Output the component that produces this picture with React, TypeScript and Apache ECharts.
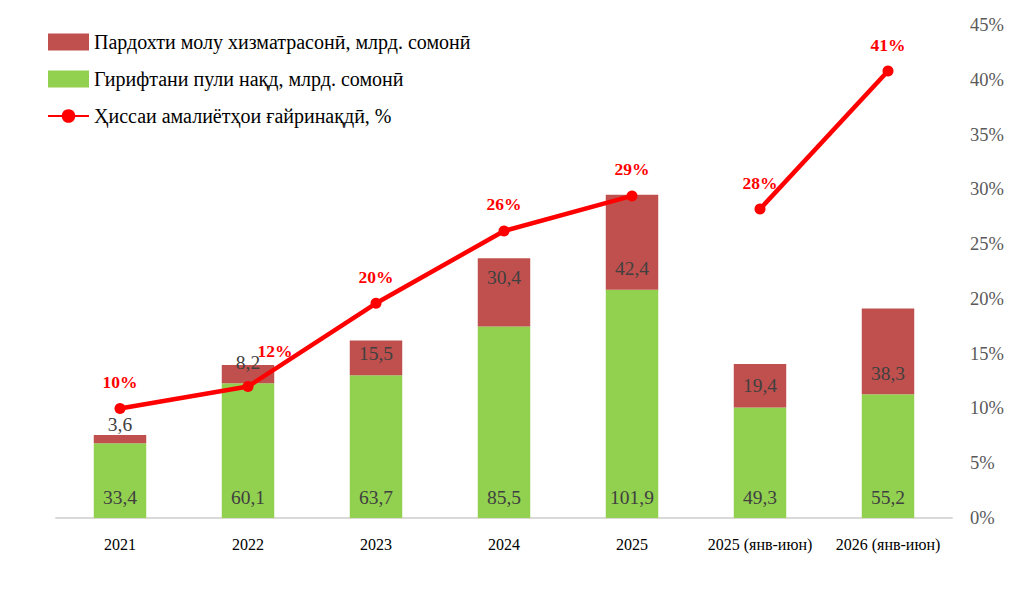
import React, { useEffect, useRef } from "react";
import * as echarts from "echarts";

const categories = ["2021", "2022", "2023", "2024", "2025", "2025 (янв-июн)", "2026 (янв-июн)"];
const cashValues = [33.4, 60.1, 63.7, 85.5, 101.9, 49.3, 55.2];
const paymentValues = [3.6, 8.2, 15.5, 30.4, 42.4, 19.4, 38.3];
const shareAnnual = [10.0, 12.0, 19.6, 26.2, 29.4, null, null];
const shareHalf = [null, null, null, null, null, 28.2, 40.8];
const rightTicks = { min: 0, max: 45, interval: 5 };

const NAME_PAY = "Пардохти молу хизматрасонӣ, млрд. сомонӣ";
const NAME_CASH = "Гирифтани пули нақд, млрд. сомонӣ";
const NAME_SHARE = "Ҳиссаи амалиётҳои ғайринақдӣ, %";

const FONT = "'Liberation Serif', 'DejaVu Serif', serif";
const fmt = (v: number) => v.toFixed(1).replace(".", ",");

const payLabelCfg: any[] = [
  { position: "top", distance: 1 },
  { position: "top", distance: -8 },
  { position: "inside", offset: [0, -4] },
  { position: "inside", offset: [0, -15] },
  { position: "inside", offset: [0, 26] },
  { position: "inside", offset: [0, 0] },
  { position: "inside", offset: [0, 22] },
];

export default function App() {
  const ref = useRef<HTMLDivElement>(null);
  useEffect(() => {
    if (!ref.current) return;
    const chart = echarts.init(ref.current, undefined, { renderer: "svg" });
    const lineLabel = {
      show: true,
      position: "top",
      distance: 12,
      color: "#FF0000",
      fontWeight: "bold",
      fontSize: 17.5,
      fontFamily: FONT,
      formatter: (p: any) => Math.round(p.value) + "%",
    };
    chart.setOption({
      animation: false,
      textStyle: { fontFamily: FONT },
      legend: {
        left: 42,
        top: 27,
        orient: "vertical",
        itemWidth: 41,
        itemHeight: 17,
        itemGap: 17,
        textStyle: { fontSize: 20, color: "#000", fontFamily: FONT },
        data: [
          { name: NAME_PAY, icon: "rect" },
          { name: NAME_CASH, icon: "rect" },
          { name: NAME_SHARE },
        ],
      },
      grid: { left: 56, right: 60, top: 25, bottom: 71 },
      xAxis: {
        type: "category",
        data: categories,
        axisLine: { lineStyle: { color: "#D9D9D9", width: 2 } },
        axisTick: { show: false },
        axisLabel: { color: "#000", fontSize: 16, margin: 18, interval: 0, fontFamily: FONT },
      },
      yAxis: [
        { type: "value", min: 0, max: 220, show: false, splitLine: { show: false } },
        {
          type: "value",
          position: "right",
          min: rightTicks.min,
          max: rightTicks.max,
          interval: rightTicks.interval,
          axisLine: { show: false },
          axisTick: { show: false },
          splitLine: { show: false },
          axisLabel: { formatter: "{value}%", color: "#595959", fontSize: 18.5, margin: 18, fontFamily: FONT },
        },
      ],
      series: [
        {
          name: NAME_CASH,
          type: "bar",
          stack: "s",
          barWidth: "41%",
          itemStyle: { color: "#92D050" },
          label: {
            show: true,
            position: "insideBottom",
            distance: 11,
            color: "#404040",
            fontSize: 19.5,
            fontFamily: FONT,
            formatter: (p: any) => fmt(p.value),
          },
          data: cashValues,
        },
        {
          name: NAME_PAY,
          type: "bar",
          stack: "s",
          itemStyle: { color: "#C0504D" },
          label: {
            show: true,
            color: "#404040",
            fontSize: 19.5,
            fontFamily: FONT,
            formatter: (p: any) => fmt(p.value),
          },
          data: paymentValues.map((v, i) => ({ value: v, label: payLabelCfg[i] })),
        },
        {
          name: NAME_SHARE,
          type: "line",
          yAxisIndex: 1,
          symbol: "circle",
          symbolSize: 11,
          lineStyle: { color: "#FF0000", width: 4.5 },
          itemStyle: { color: "#FF0000" },
          label: lineLabel,
          data: shareAnnual.map((v, i) =>
            i === 1 ? { value: v, label: { offset: [27, -9] } } : v === null ? "-" : v
          ),
          z: 5,
        },
        {
          name: NAME_SHARE,
          type: "line",
          yAxisIndex: 1,
          symbol: "circle",
          symbolSize: 11,
          lineStyle: { color: "#FF0000", width: 4.5 },
          itemStyle: { color: "#FF0000" },
          label: lineLabel,
          data: shareHalf.map((v) => (v === null ? "-" : v)),
          z: 5,
        },
      ],
    });
    return () => chart.dispose();
  }, []);
  return <div ref={ref} style={{ width: 1012, height: 589, margin: -8 }} />;
}
